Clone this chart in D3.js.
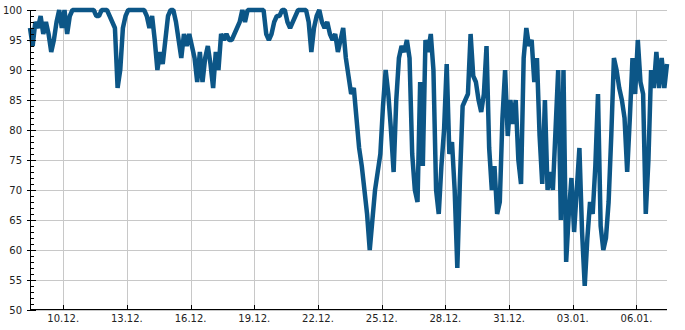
<!DOCTYPE html>
<html>
<head>
<meta charset="utf-8">
<script src="https://cdn.jsdelivr.net/npm/d3@7"></script>
<style>
  body { margin: 0; background: #fff; }
  text { font-family: "DejaVu Sans", sans-serif; font-size: 10px; fill: #222; }
</style>
</head>
<body>
<svg id="chart"></svg>
<script>
// chart size
const width = 685;
const height = 330;
const margin = { left: 30, right: 18, top: 10, bottom: 20 };

// readings every 3 hours, starting 08.12. 10:30
const startTime = new Date(2023, 11, 8, 10, 30);
const stepHours = 3;
const values = [
  97, 94, 98, 97, 99, 96, 98, 96, 93, 95,
  98, 100, 97, 100, 96, 99, 100, 100, 100, 100,
  100, 100, 100, 100, 100, 99, 99, 100, 100, 100,
  99, 98, 97, 87, 90, 97, 99, 100, 100, 100,
  100, 100, 100, 100, 99, 97, 99, 95, 90, 93,
  91, 95, 99, 100, 100, 98, 95, 92, 96, 94,
  96, 94, 92, 88, 93, 88, 92, 94, 91, 87,
  93, 90, 96, 95, 96, 95, 95, 96, 97, 98,
  100, 98, 100, 100, 100, 100, 100, 100, 100, 96,
  95, 96, 98, 99, 99, 100, 100, 98, 97, 98,
  99, 100, 100, 100, 100, 98, 93, 97, 99, 100,
  98, 97, 98, 96, 95, 96, 93, 95, 97, 92,
  89, 86, 87, 82, 77, 74, 70, 66, 60, 65,
  70, 73, 76, 84, 90, 86, 80, 73, 85, 92,
  94, 93, 95, 92, 76, 70, 68, 88, 74, 95,
  93, 96, 90, 70, 66, 74, 80, 91, 76, 78,
  70, 57, 72, 84, 85, 86, 96, 89, 88, 85,
  83, 86, 94, 77, 70, 74, 66, 68, 82, 90,
  79, 85, 81, 85, 75, 71, 92, 97, 94, 95,
  88, 92, 79, 71, 85, 70, 73, 70, 80, 90,
  65, 90, 58, 66, 72, 63, 70, 77, 63, 54,
  62, 68, 66, 74, 86, 64, 60, 62, 68, 79,
  92, 90, 87, 85, 82, 73, 82, 92, 86, 95,
  88, 86, 66, 75, 90, 87, 93, 87, 92, 87,
  91
];

// tick setup
const xTickDates = ['2023-12-10', '2023-12-13', '2023-12-16', '2023-12-19', '2023-12-22',
                    '2023-12-25', '2023-12-28', '2023-12-31', '2024-01-03', '2024-01-06'];
const yMajorTicks = [50, 55, 60, 65, 70, 75, 80, 85, 90, 95, 100];
const yMinorTicks = d3.range(50, 101, 1);

const data = values.map((v, i) => ({
    date: new Date(startTime.getTime() + i * stepHours * 3600 * 1000),
    value: v
}));

const svg = d3.select('svg#chart').attr('width', width).attr('height', height);
const g = svg.append('g').attr('transform', `translate(${margin.left},${margin.top})`);

const visWidth = width - margin.left - margin.right;
const visHeight = height - margin.top - margin.bottom;

const x = d3.scaleTime()
    .domain(d3.extent(data, d => d.date))
    .range([0, visWidth]);

const y = d3.scaleLinear()
    .domain([50, 100])
    .range([visHeight, 0]);

const xTicks = xTickDates.map(s => { const p = s.split('-'); return new Date(+p[0], +p[1] - 1, +p[2]); });

// grid
g.append('g')
    .selectAll('line')
    .data(yMajorTicks)
    .enter().append('line')
    .attr('x1', 0).attr('x2', visWidth)
    .attr('y1', d => Math.round(y(d)) + 0.5).attr('y2', d => Math.round(y(d)) + 0.5)
    .attr('stroke', '#c8c8c8');

g.append('g')
    .selectAll('line')
    .data(xTicks)
    .enter().append('line')
    .attr('x1', d => Math.round(x(d)) + 0.5).attr('x2', d => Math.round(x(d)) + 0.5)
    .attr('y1', 0).attr('y2', visHeight)
    .attr('stroke', '#c8c8c8');

// line
const line = d3.line()
    .x(d => x(d.date))
    .y(d => y(d.value));

g.append('path')
    .datum(data)
    .attr('fill', 'none')
    .attr('stroke', '#0c5687')
    .attr('stroke-width', 4.5)
    .attr('stroke-linejoin', 'bevel')
    .attr('d', line);

// y axis
const yAxis = g.append('g').attr('class', 'y-axis');
yAxis.append('line')
    .attr('x1', 0.5).attr('x2', 0.5)
    .attr('y1', 0).attr('y2', visHeight + 0.5)
    .attr('stroke', '#000');
yAxis.selectAll('.minor')
    .data(yMinorTicks)
    .enter().append('line')
    .attr('class', 'minor')
    .attr('x1', d => d % 5 === 0 ? -3 : 0).attr('x2', d => d % 5 === 0 ? 6 : 4)
    .attr('y1', d => Math.round(y(d)) + 0.5).attr('y2', d => Math.round(y(d)) + 0.5)
    .attr('stroke', '#000');
yAxis.selectAll('text')
    .data(yMajorTicks)
    .enter().append('text')
    .attr('x', -8)
    .attr('y', d => y(d))
    .attr('dy', '0.35em')
    .attr('text-anchor', 'end')
    .text(d => d);

// x axis
const xAxis = g.append('g').attr('class', 'x-axis');
xAxis.append('line')
    .attr('x1', 0).attr('x2', visWidth)
    .attr('y1', visHeight - 0.5).attr('y2', visHeight - 0.5)
    .attr('stroke', '#000');
xAxis.selectAll('.tick')
    .data(xTicks)
    .enter().append('line')
    .attr('class', 'tick')
    .attr('x1', d => Math.round(x(d)) + 0.5).attr('x2', d => Math.round(x(d)) + 0.5)
    .attr('y1', visHeight - 5).attr('y2', visHeight)
    .attr('stroke', '#000');
xAxis.selectAll('text')
    .data(xTicks)
    .enter().append('text')
    .attr('x', d => x(d))
    .attr('y', visHeight + 11.5)
    .attr('text-anchor', 'middle')
    .text(d => d3.timeFormat('%d.%m.')(d));
</script>
</body>
</html>
